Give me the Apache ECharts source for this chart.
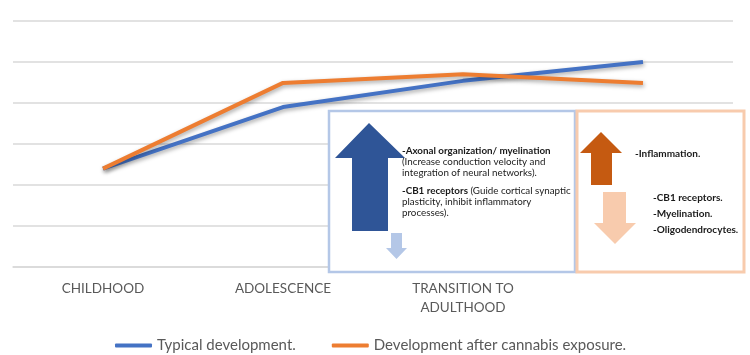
<!DOCTYPE html>
<html><head><meta charset="utf-8">
<script src="https://cdn.jsdelivr.net/npm/echarts@6/dist/echarts.min.js"></script>
<style>html,body{margin:0;padding:0;background:#fff}#c{width:750px;height:355px}</style>
</head><body><div id="c"></div>
<script>
const categories = ['CHILDHOOD', 'ADOLESCENCE', 'TRANSITION TO\nADULTHOOD', ''];
const typical = [2.4, 3.9, 4.54, 5.0];
const cannabis = [2.4, 4.49, 4.7, 4.49];
const seriesNames = ['Typical development.', 'Development after cannabis exposure.'];
const blueBoxLines = [
  ['b', '-Axonal organization/ myelination'],
  ['n', '(Increase conduction velocity and'],
  ['n', 'integration of neural networks).'],
];
const blueBoxLines2 = [
  ['mix', '-CB1 receptors', ' (Guide cortical synaptic'],
  ['n', 'plasticity, inhibit inflammatory'],
  ['n', 'processes).'],
];
const orangeUp = ['-Inflammation.'];
const orangeDown = ['-CB1 receptors.', '-Myelination.', '-Oligodendrocytes.'];

const FONT = 'Lato';
const FS = 9.8;
const chart = echarts.init(document.getElementById('c'));
const txt = (x, y, s, bold, fs) => ({
  type: 'text', left: x, top: y, z: 110,
  style: { text: s, fill: '#1a1a1a', font: (bold ? 'bold ' : '') + (fs || FS) + 'px ' + FONT }
});
const graphics = [
  { type: 'rect', z: 100, shape: { x: 329, y: 111, width: 246, height: 161 },
    style: { fill: '#fff', stroke: '#B4C7E7', lineWidth: 2.5 } },
  { type: 'rect', z: 100, shape: { x: 577, y: 111, width: 167, height: 161 },
    style: { fill: '#fff', stroke: '#F8CBAD', lineWidth: 3 } },
  { type: 'polygon', z: 105, shape: { points: [[369,123],[405,158],[388,158],[388,231],[352,231],[352,158],[335,158]] },
    style: { fill: '#2F5597' } },
  { type: 'polygon', z: 105, shape: { points: [[391,233],[402,233],[402,248],[407,248],[396.5,259],[386,248],[391,248]] },
    style: { fill: '#B4C7E7' } },
  { type: 'polygon', z: 105, shape: { points: [[601,132],[622,153],[612,153],[612,185],[591,185],[591,153],[580,153]] },
    style: { fill: '#C55A11' } },
  { type: 'polygon', z: 105, shape: { points: [[603,192],[626,192],[626,223],[636,223],[615,244],[594,223],[603,223]] },
    style: { fill: '#F8CBAD' } },
];
blueBoxLines.forEach((l, i) => graphics.push(txt(402, 146 + i * 11, l[1], l[0] === 'b')));
graphics.push({
  type: 'text', left: 402, top: 186, z: 110,
  style: { text: '{b|' + blueBoxLines2[0][1] + '}' + blueBoxLines2[0][2], fill: '#1a1a1a', font: FS + 'px ' + FONT,
    rich: { b: { fontWeight: 'bold', fontFamily: FONT, fontSize: FS, fill: '#1a1a1a' } } }
});
blueBoxLines2.slice(1).forEach((l, i) => graphics.push(txt(402, 197 + i * 11, l[1], false)));
orangeUp.forEach((s, i) => graphics.push(txt(635, 149 + i * 11, s, true, 10)));
orangeDown.forEach((s, i) => graphics.push(txt(653, 193 + i * 16, s, true, 10)));

const lineShadow = { shadowColor: 'rgba(0,0,0,0.35)', shadowBlur: 4, shadowOffsetX: 1, shadowOffsetY: 2 };
chart.setOption({
  animation: false,
  grid: { left: 13, right: 17, top: 21, bottom: 88 },
  xAxis: {
    type: 'category', data: categories, boundaryGap: true,
    axisLine: { lineStyle: { color: '#D9D9D9', width: 1.5 } },
    axisTick: { show: false },
    axisLabel: { color: '#595959', fontFamily: FONT, fontSize: 13.5, margin: 12, lineHeight: 19, interval: 0 }
  },
  yAxis: {
    type: 'value', min: 0, max: 6, interval: 1,
    axisLabel: { show: false }, axisLine: { show: false }, axisTick: { show: false },
    splitLine: { lineStyle: { color: '#D9D9D9', width: 1.5 } }
  },
  legend: {
    left: 110, top: 333, itemWidth: 37, itemHeight: 4, itemGap: 36, icon: 'roundRect',
    textStyle: { color: '#595959', fontFamily: FONT, fontSize: 15 },
    data: seriesNames
  },
  series: [
    { name: seriesNames[0], type: 'line', data: typical, symbol: 'none',
      lineStyle: Object.assign({ color: '#4472C4', width: 4 }, lineShadow), itemStyle: { color: '#4472C4' } },
    { name: seriesNames[1], type: 'line', data: cannabis, symbol: 'none',
      lineStyle: Object.assign({ color: '#ED7D31', width: 4 }, lineShadow), itemStyle: { color: '#ED7D31' } }
  ],
  graphic: graphics
});
</script></body></html>
